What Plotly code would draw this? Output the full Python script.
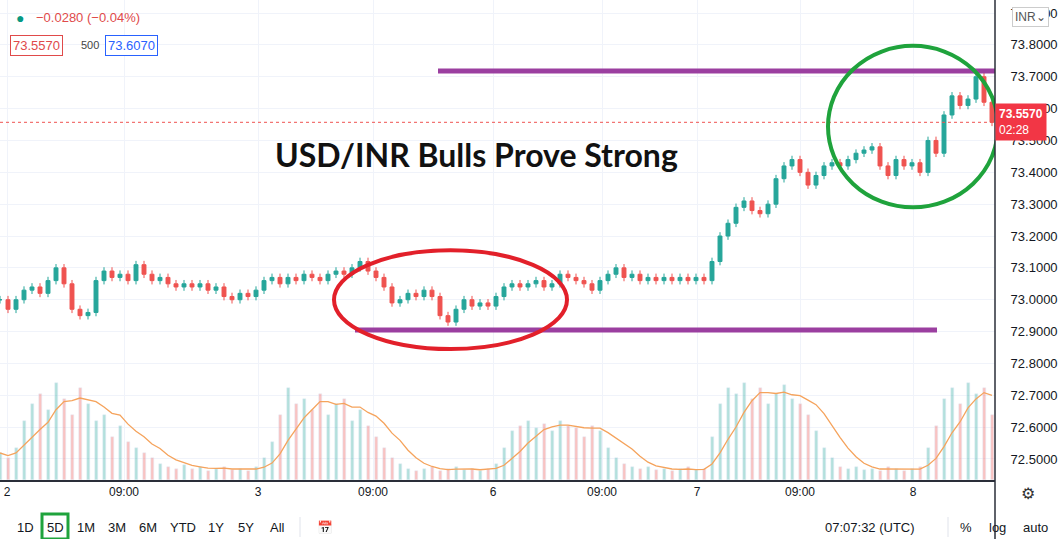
import plotly.graph_objects as go
import pandas as pd

closes = [73.00,72.97,73.00,73.03,73.04,73.02,73.06,73.10,73.05,72.97,72.95,72.96,73.06,73.09,73.07,73.08,73.06,73.11,73.08,73.06,
73.07,73.05,73.04,73.05,73.04,73.05,73.03,73.04,73.01,73.00,73.02,73.01,73.03,73.06,73.07,73.05,73.07,73.06,73.08,73.07,
73.06,73.08,73.09,73.08,73.10,73.12,73.09,73.07,73.04,72.99,73.00,73.02,73.01,73.03,73.01,72.95,72.93,72.97,73.00,72.98,
72.99,72.98,73.01,73.04,73.05,73.04,73.05,73.06,73.04,73.05,73.08,73.07,73.06,73.05,73.03,73.06,73.08,73.10,73.07,73.08,
73.06,73.07,73.06,73.07,73.06,73.07,73.06,73.07,73.06,73.12,73.20,73.24,73.29,73.31,73.28,73.27,73.30,73.38,73.42,73.44,
73.40,73.36,73.39,73.42,73.43,73.42,73.44,73.46,73.47,73.48,73.42,73.39,73.44,73.42,73.43,73.40,73.50,73.46,73.58,73.64,
73.61,73.63,73.70,73.62,73.557]
volumes = [25,20,30,55,70,80,65,90,75,60,85,70,55,60,40,50,35,30,25,20,
15,12,10,14,10,12,8,10,12,9,10,8,12,20,35,60,85,70,75,65,
80,60,70,75,55,65,50,40,30,20,15,10,8,10,12,8,10,12,9,10,
8,10,15,30,45,50,55,48,52,45,55,50,48,40,50,45,30,20,15,12,
10,12,9,10,8,10,12,9,10,40,70,85,80,90,75,85,70,80,88,75,
70,60,45,30,20,12,10,12,9,10,8,12,10,8,10,12,30,50,75,85,
70,90,80,85,60]
x_ticks = [7,124,258,373,493,602,697,800,913]
x_tick_labels = ["2","09:00","3","09:00","6","09:00","7","09:00","8"]
price_ticks = [72.5,72.6,72.7,72.8,72.9,73.0,73.1,73.2,73.3,73.4,73.5,73.6,73.7,73.8,73.9]

xs = [8*i for i in range(len(closes))]
opens = [closes[0]] + closes[:-1]
highs = [max(o, c) + 0.012 for o, c in zip(opens, closes)]
lows = [min(o, c) - 0.012 for o, c in zip(opens, closes)]
up = [c >= o for o, c in zip(opens, closes)]
ma = pd.Series(volumes).rolling(6, min_periods=1).mean()

GREEN, RED = "#26a69a", "#ef5350"
fig = go.Figure()
fig.add_trace(go.Bar(x=xs, y=volumes, yaxis="y2", width=3,
    marker_color=["rgba(38,166,154,0.35)" if u else "rgba(239,83,80,0.35)" for u in up], hoverinfo="skip"))
fig.add_trace(go.Scatter(x=xs, y=ma, yaxis="y2", mode="lines", line=dict(color="#f5a35c", width=1.3)))
fig.add_trace(go.Candlestick(x=xs, open=opens, high=highs, low=lows, close=closes,
    increasing=dict(line=dict(color=GREEN, width=1), fillcolor=GREEN),
    decreasing=dict(line=dict(color=RED, width=1), fillcolor=RED), whiskerwidth=0))

def py(p):  # pixel y -> paper
    return (480 - p) / 480

shapes = [
    dict(type="line", xref="x", yref="y", x0=0, x1=995, y0=73.557, y1=73.557, line=dict(color=RED, width=1, dash="dot")),
    dict(type="line", xref="x", yref="y", x0=438, x1=995, y0=73.718, y1=73.718, line=dict(color="#9b3fa0", width=5)),
    dict(type="line", xref="x", yref="y", x0=355, x1=937, y0=72.905, y1=72.905, line=dict(color="#9b3fa0", width=5)),
    dict(type="circle", xref="x", yref="y", x0=828, x1=998, y0=73.29, y1=73.797, line=dict(color="#1fa33c", width=4)),
    dict(type="circle", xref="x", yref="y", x0=334, x1=567, y0=72.845, y1=73.155, line=dict(color="#e2202a", width=4)),
    dict(type="line", xref="paper", yref="paper", x0=1, x1=1, y0=py(0), y1=py(539), line=dict(color="#2a2e39", width=1.5)),
    dict(type="rect", xref="paper", yref="paper", x0=42/995, x1=68/995, y0=py(539), y1=py(514), line=dict(color="#1fa33c", width=3)),
    dict(type="line", xref="paper", yref="paper", x0=300/995, x1=300/995, y0=py(517), y1=py(537), line=dict(color="#e0e3eb", width=1)),
    dict(type="line", xref="paper", yref="paper", x0=948/995, x1=948/995, y0=py(517), y1=py(537), line=dict(color="#e0e3eb", width=1)),
]

F = "Liberation Sans"
ann = [
    dict(x=476/995, y=py(155), text="<b>USD/INR Bulls Prove Strong</b>", font=dict(family="Lato", size=32, color="#111")),
    dict(x=20/995, y=py(18), text="●", font=dict(size=14, color="#089981")),
    dict(x=34/995, y=py(18), xanchor="left", text="−0.0280 (−0.04%)", font=dict(family=F, size=13, color="#e04a4a")),
    dict(x=10/995, y=py(45), xanchor="left", text="73.5570", font=dict(family=F, size=13, color="#e04a4a"),
         bordercolor="#e04a4a", borderwidth=1, borderpad=2, bgcolor="white"),
    dict(x=79/995, y=py(45), xanchor="left", text="500", font=dict(family=F, size=11, color="#444")),
    dict(x=105/995, y=py(45), xanchor="left", text="73.6070", font=dict(family=F, size=13, color="#2962ff"),
         bordercolor="#2962ff", borderwidth=1, borderpad=2, bgcolor="white"),
    dict(x=1.0, y=73.557, yref="y", xanchor="left", text="<b>73.5570</b><br>02:28", align="left", showarrow=False,
         font=dict(family=F, size=12, color="white"), bgcolor="#f23645", borderpad=3),
    dict(x=1012/995, y=py(17), xanchor="left", text="INR⌄", font=dict(family=F, size=12, color="#555"),
         bordercolor="#ccc", borderwidth=1, borderpad=2, bgcolor="white"),
    dict(x=1028/995, y=py(493), text="⚙", font=dict(size=16, color="#333")),
]
for label, px in [("1D",25),("5D",55),("1M",86),("3M",117),("6M",148),("YTD",183),("1Y",216),("5Y",246),("All",277),
                  ("📅",325),("07:07:32 (UTC)",870),("%",966),("log",997),("auto",1035)]:
    ann.append(dict(x=px/995, y=py(527), text=label, font=dict(family=F, size=13, color="#131722")))
for a in ann:
    a.setdefault("xref", "paper"); a.setdefault("yref", "paper"); a.setdefault("showarrow", False)
    a.setdefault("xanchor", "center"); a.setdefault("yanchor", "middle")

fig.update_layout(
    width=1059, height=539, margin=dict(l=0, r=64, t=0, b=59),
    paper_bgcolor="white", plot_bgcolor="white", showlegend=False, shapes=shapes, annotations=ann,
    bargap=0,
    xaxis=dict(range=[0, 995], tickvals=x_ticks, ticktext=x_tick_labels, showgrid=True, gridcolor="#f0f3fa",
               rangeslider=dict(visible=False), showline=True, linecolor="#2a2e39", linewidth=1.5,
               tickfont=dict(family=F, size=12, color="#131722"), ticks="", zeroline=False),
    yaxis=dict(range=[72.434, 73.941], side="right", tickvals=price_ticks,
               ticktext=[f"{v:.4f}" for v in price_ticks], showgrid=True, gridcolor="#f0f3fa",
               tickfont=dict(family=F, size=13, color="#131722"), zeroline=False, ticks="outside",
               ticklen=12, tickcolor="white"),
    yaxis2=dict(range=[0, 444], overlaying="y", visible=False),
)
fig.write_html("out.html", config={"displayModeBar": False},
               post_script="document.body.style.margin='0';document.body.style.overflow='hidden';")
